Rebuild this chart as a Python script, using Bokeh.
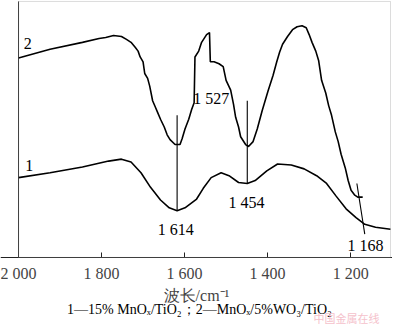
from bokeh.plotting import figure
from bokeh.models import Range1d, FixedTicker, BoxAnnotation
from bokeh.core.properties import value
from bokeh.embed import file_html
from bokeh.resources import INLINE

# ---- data (wavenumber cm^-1, relative intensity) ----
s2_wn = [2000, 1924, 1846, 1806, 1790, 1771, 1752, 1740, 1729, 1719, 1712, 1707, 1700, 1696,
         1689, 1684, 1677, 1670, 1665, 1658, 1649, 1642, 1635, 1623, 1611, 1606, 1599, 1590,
         1583, 1577, 1575, 1566, 1559, 1547, 1540, 1538, 1529, 1517, 1507, 1500, 1489, 1482,
         1477, 1470, 1465, 1453, 1446, 1435, 1425, 1413, 1406, 1399, 1387, 1378, 1371, 1364,
         1352, 1340, 1329, 1317, 1307, 1300, 1293, 1284, 1277, 1270, 1260, 1253, 1246, 1237,
         1230, 1223, 1213, 1206, 1199, 1190, 1183, 1171]
s2_int = [205, 214, 221, 225, 226, 228, 227, 224, 221, 216, 212, 206, 201, 189,
          184, 176, 161, 154, 149, 142, 134, 126, 121, 116, 116, 122, 132, 142,
          152, 159, 206, 212, 221, 229, 231, 201, 201, 199, 196, 182, 172, 157,
          144, 134, 124, 116, 114, 119, 132, 151, 161, 171, 187, 201, 211, 219,
          227, 234, 237, 238, 236, 229, 221, 212, 202, 182, 169, 156, 146, 129,
          119, 106, 92, 79, 69, 64, 62, 62]

s1_wn = [2000, 1924, 1846, 1783, 1752, 1729, 1705, 1682, 1658, 1637, 1618, 1599, 1571, 1555,
         1536, 1512, 1493, 1470, 1449, 1430, 1402, 1376, 1343, 1312, 1282, 1258, 1235, 1211,
         1187, 1166, 1140, 1104]
s1_int = [82, 87, 93, 99, 101, 98, 87, 72, 59, 51, 48, 51, 60, 71,
          82, 87, 84, 77, 76, 79, 89, 96, 95, 91, 84, 76, 63, 50,
          41, 34, 31, 29]

# peak marker lines
mark_x0 = [1618, 1449, 1185]
mark_y0 = [146, 161, 76]
mark_x1 = [1618, 1449, 1166]
mark_y1 = [48, 76, 24]

peak_labels = ["1 614", "1 527", "1 454", "1 168"]
peak_lx = [1621, 1536, 1451, 1164]
peak_ly = [29, 163, 56, 12]

series_labels = ["2", "1"]
series_lx = [1978, 1974]
series_ly = [220, 94]

ticks = [2000, 1800, 1600, 1400, 1200]
tick_labels = ["2 000", "1 800", "1 600", "1 400", "1 200"]

# plot box extent (data units)
box_left, box_right, box_bottom, box_top = 2000, 1104, 0, 263

caption = ["1—15% MnOₓ/TiO₂；2—MnOₓ/5%WO₃/TiO₂"]
caption_x = [1564]
caption_y = [-53]
watermark = ["中国金属在线"]
watermark_x = [1210]
watermark_y = [-62]

SERIF = "Liberation Serif"

p = figure(frame_width=392, frame_height=324,
           x_range=Range1d(2043.4, 1099.2), y_range=Range1d(-68.9, 264.0),
           output_backend="svg", toolbar_location=None,
           min_border_left=0, min_border_right=0, min_border_top=0, min_border_bottom=0)
p.title.visible = False
p.grid.visible = False
p.outline_line_color = None
p.background_fill_color = "white"
p.border_fill_color = "white"

# plot box (top/right light grey)
p.add_layout(BoxAnnotation(left=box_left, right=box_right, bottom=box_bottom, top=box_top,
                           fill_alpha=0, line_color="#8a8a8a", line_width=1))

# x axis drawn at intensity 0
xa = p.xaxis[0]
xa.fixed_location = box_bottom
xa.ticker = FixedTicker(ticks=ticks)
xa.major_label_overrides = {t: l for t, l in zip(ticks, tick_labels)}
xa.major_tick_in = 5
xa.major_tick_out = 0
xa.minor_tick_in = 0
xa.minor_tick_out = 0
xa.minor_tick_line_color = None
xa.major_label_text_font = SERIF
xa.major_label_text_font_size = "16px"
xa.major_label_standoff = 8
xa.axis_line_color = "#222222"
xa.major_tick_line_color = "#222222"
xa.axis_label = "波长/cm⁻¹"
xa.axis_label_text_font = SERIF
xa.axis_label_text_font_style = "normal"
xa.axis_label_text_font_size = "16px"
xa.axis_label_standoff = 1

p.yaxis.visible = False
# left spine
p.segment(x0=[box_left], y0=[box_bottom], x1=[box_left], y1=[box_top],
          line_color="#222222", line_width=1)

# curves
p.line(s2_wn, s2_int, line_color="black", line_width=1.6)
p.line(s1_wn, s1_int, line_color="black", line_width=1.6)

# marker lines
p.segment(x0=mark_x0, y0=mark_y0, x1=mark_x1, y1=mark_y1, line_color="black", line_width=1.1)

# labels
p.text(x=peak_lx, y=peak_ly, text=peak_labels, text_font=value(SERIF), text_font_size="16px",
       text_align="center", text_baseline="middle", text_color="black")
p.text(x=series_lx, y=series_ly, text=series_labels, text_font=value(SERIF), text_font_size="16px",
       text_align="center", text_baseline="middle", text_color="black")

p.text(x=caption_x, y=caption_y, text=caption, text_font=value(SERIF), text_font_size="14px",
       text_align="center", text_baseline="middle", text_color="black")
p.text(x=watermark_x, y=watermark_y, text=watermark, text_font=value("Noto Sans CJK SC"),
       text_font_size="11px", text_align="center", text_baseline="middle", text_color="#f5c2cc")

open("out.html", "w").write(file_html(p, INLINE))
